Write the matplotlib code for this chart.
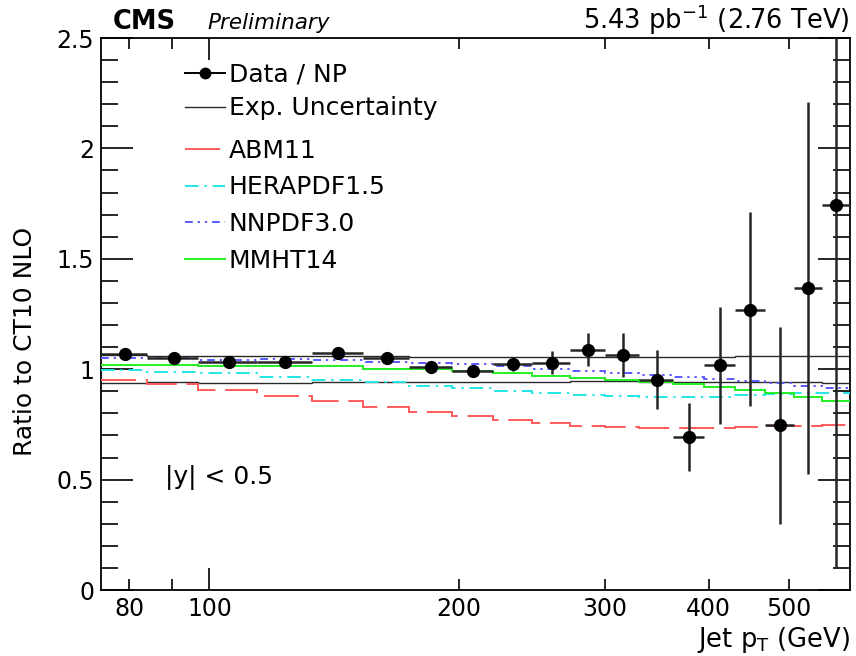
import matplotlib
matplotlib.use("Agg")
import matplotlib.pyplot as plt
from matplotlib.lines import Line2D
from matplotlib.ticker import FixedLocator, FixedFormatter, MultipleLocator, FuncFormatter
import numpy as np

# ---------------- data ----------------
bin_edges = [74, 84, 97, 114, 133, 153, 174, 196, 220, 245, 272, 300, 330,
             362, 395, 430, 468, 507, 548, 592]

data_ratio = [1.069, 1.049, 1.031, 1.034, 1.072, 1.049, 1.010, 0.990, 1.022,
              1.030, 1.088, 1.064, 0.953, 0.693, 1.019, 1.270, 0.747, 1.370, 1.743]
data_err_up = [0.012, 0.012, 0.012, 0.012, 0.013, 0.013, 0.014, 0.015, 0.030,
               0.052, 0.076, 0.100, 0.134, 0.154, 0.261, 0.440, 0.443, 0.840, 1.000]
data_err_dn = [0.012, 0.012, 0.012, 0.012, 0.013, 0.013, 0.014, 0.015, 0.030,
               0.050, 0.073, 0.099, 0.133, 0.153, 0.269, 0.437, 0.447, 0.845, 1.643]

exp_unc_up = [1.064, 1.058, 1.062, 1.060, 1.060, 1.058, 1.057, 1.055, 1.055, 1.056,
              1.056, 1.057, 1.055, 1.056, 1.056, 1.058, 1.058, 1.060, 1.060]
exp_unc_dn = [0.938, 0.940, 0.937, 0.938, 0.940, 0.940, 0.941, 0.942, 0.943, 0.944,
              0.945, 0.945, 0.944, 0.944, 0.943, 0.942, 0.942, 0.940, 0.938]

abm11 = [0.951, 0.935, 0.908, 0.879, 0.855, 0.830, 0.808, 0.788, 0.770, 0.755,
         0.744, 0.740, 0.735, 0.732, 0.735, 0.738, 0.743, 0.745, 0.748]
herapdf15 = [0.997, 0.989, 0.981, 0.966, 0.951, 0.940, 0.924, 0.913, 0.901, 0.890,
             0.883, 0.879, 0.876, 0.874, 0.876, 0.883, 0.886, 0.890, 0.890]
nnpdf30 = [1.049, 1.049, 1.042, 1.045, 1.042, 1.034, 1.026, 1.022, 1.014, 0.999,
           0.993, 0.984, 0.974, 0.963, 0.954, 0.948, 0.936, 0.924, 0.913]
mmht14 = [1.019, 1.019, 1.016, 1.015, 1.014, 1.003, 1.003, 0.993, 0.981, 0.969,
          0.959, 0.951, 0.943, 0.932, 0.921, 0.906, 0.890, 0.873, 0.855]

x_major = [100]
x_minor = [80, 90, 200, 300, 400, 500]
x_minor_labels = ["80", "", "200", "300", "400", "500"]

# ---------------- figure ----------------
FONT = "DejaVu Sans"
FS = 17
plt.rcParams["font.family"] = [FONT]
plt.rcParams["mathtext.fontset"] = "dejavusans"

W, H = 856, 656
fig = plt.figure(figsize=(W / 100, H / 100), dpi=100)
ax = fig.add_axes([101 / W, 66 / H, 749 / W, 552 / H])

edges = np.array(bin_edges, dtype=float)
xc = 0.5 * (edges[:-1] + edges[1:])

# experimental uncertainty band edges
ax.stairs(exp_unc_up, edges, baseline=None, color="#2a2a2a", lw=1.0, zorder=2)
ax.stairs(exp_unc_dn, edges, baseline=None, color="#2a2a2a", lw=1.0, zorder=2)

# theory curves
styles = {
    "ABM11": dict(color="#ff5a5a", dashes=(18, 5)),
    "HERAPDF1.5": dict(color="#22e6e6", dashes=(7, 3, 1.2, 3)),
    "NNPDF3.0": dict(color="#5a5aff", dashes=(4, 2.5, 1.2, 2.5, 1.2, 2.5)),
    "MMHT14": dict(color="#22ee22", dashes=()),
}
curves = {"ABM11": abm11, "HERAPDF1.5": herapdf15, "NNPDF3.0": nnpdf30, "MMHT14": mmht14}
for name, vals in curves.items():
    st = styles[name]
    s = ax.stairs(vals, edges, baseline=None, color=st["color"], lw=1.4, zorder=3)
    if st["dashes"]:
        s.set_linestyle((0, st["dashes"]))

# data
ax.errorbar(xc, data_ratio,
            yerr=[data_err_dn, data_err_up],
            xerr=[xc - edges[:-1], edges[1:] - xc],
            fmt="o", color="black", ms=8.5, ecolor="#262626",
            elinewidth=1.8, capsize=0, zorder=5)

# axes
ax.set_xscale("log")
ax.set_xlim(bin_edges[0], bin_edges[-1])
ax.set_ylim(0, 2.5)
ax.xaxis.set_major_locator(FixedLocator(x_major))
ax.xaxis.set_major_formatter(FixedFormatter([str(v) for v in x_major]))
ax.xaxis.set_minor_locator(FixedLocator(x_minor))
ax.xaxis.set_minor_formatter(FixedFormatter(x_minor_labels))
ax.yaxis.set_major_locator(MultipleLocator(0.5))
ax.yaxis.set_minor_locator(MultipleLocator(0.1))
ax.yaxis.set_major_formatter(FuncFormatter(lambda v, p: "%g" % v))

ax.tick_params(axis="both", which="both", direction="in", top=True, right=True,
               labelsize=FS, width=1.2, colors="black")
ax.tick_params(axis="x", which="major", length=16, pad=5)
ax.tick_params(axis="x", which="minor", length=8, pad=5)
ax.tick_params(axis="y", which="major", length=23, pad=5)
ax.tick_params(axis="y", which="minor", length=12, pad=5)
for sp in ax.spines.values():
    sp.set_linewidth(1.3)

ax.set_xlabel(r"Jet p$_\mathregular{T}$ (GeV)", fontsize=18.5, loc="right", labelpad=3)
ax.set_ylabel("Ratio to CT10 NLO", fontsize=18)
ax.yaxis.set_label_coords(-0.086, 0.45)

# header texts
fig.text(113 / W, (H - 29) / H, "CMS", fontsize=18.5, fontweight="bold", va="baseline")
fig.text(207 / W, (H - 29) / H, "Preliminary", fontsize=15.5, fontstyle="italic", va="baseline")
fig.text(850 / W, (H - 29) / H, r"5.43 pb$^{\mathregular{-1}}$ (2.76 TeV)", fontsize=18.5,
         ha="right", va="baseline")

ax.text((165 - 101) / 749, (590 - 478) / 552, "|y| < 0.5", transform=ax.transAxes,
        fontsize=18, va="center", ha="left")

# legends
h_data = Line2D([], [], color="black", marker="o", ms=7.5, lw=1.4)
h_exp = Line2D([], [], color="#2a2a2a", lw=1.0)
leg1 = ax.legend([h_data, h_exp], ["Data / NP", "Exp. Uncertainty"],
                 loc="upper left", bbox_to_anchor=(185 / W, (H - 63) / H),
                 bbox_transform=fig.transFigure, frameon=False, fontsize=18,
                 borderpad=0, borderaxespad=0, handlelength=1.6,
                 handletextpad=0.15, labelspacing=0.38)
ax.add_artist(leg1)

th_handles = []
for name in curves:
    st = styles[name]
    l = Line2D([], [], color=st["color"], lw=1.4)
    if st["dashes"]:
        l.set_dashes(st["dashes"])
    th_handles.append(l)
ax.legend(th_handles, list(curves.keys()),
          loc="upper left", bbox_to_anchor=(185 / W, (H - 139) / H),
          bbox_transform=fig.transFigure, frameon=False, fontsize=18,
          borderpad=0, borderaxespad=0, handlelength=1.6,
          handletextpad=0.15, labelspacing=0.5)

fig.savefig("out.png", dpi=100)
